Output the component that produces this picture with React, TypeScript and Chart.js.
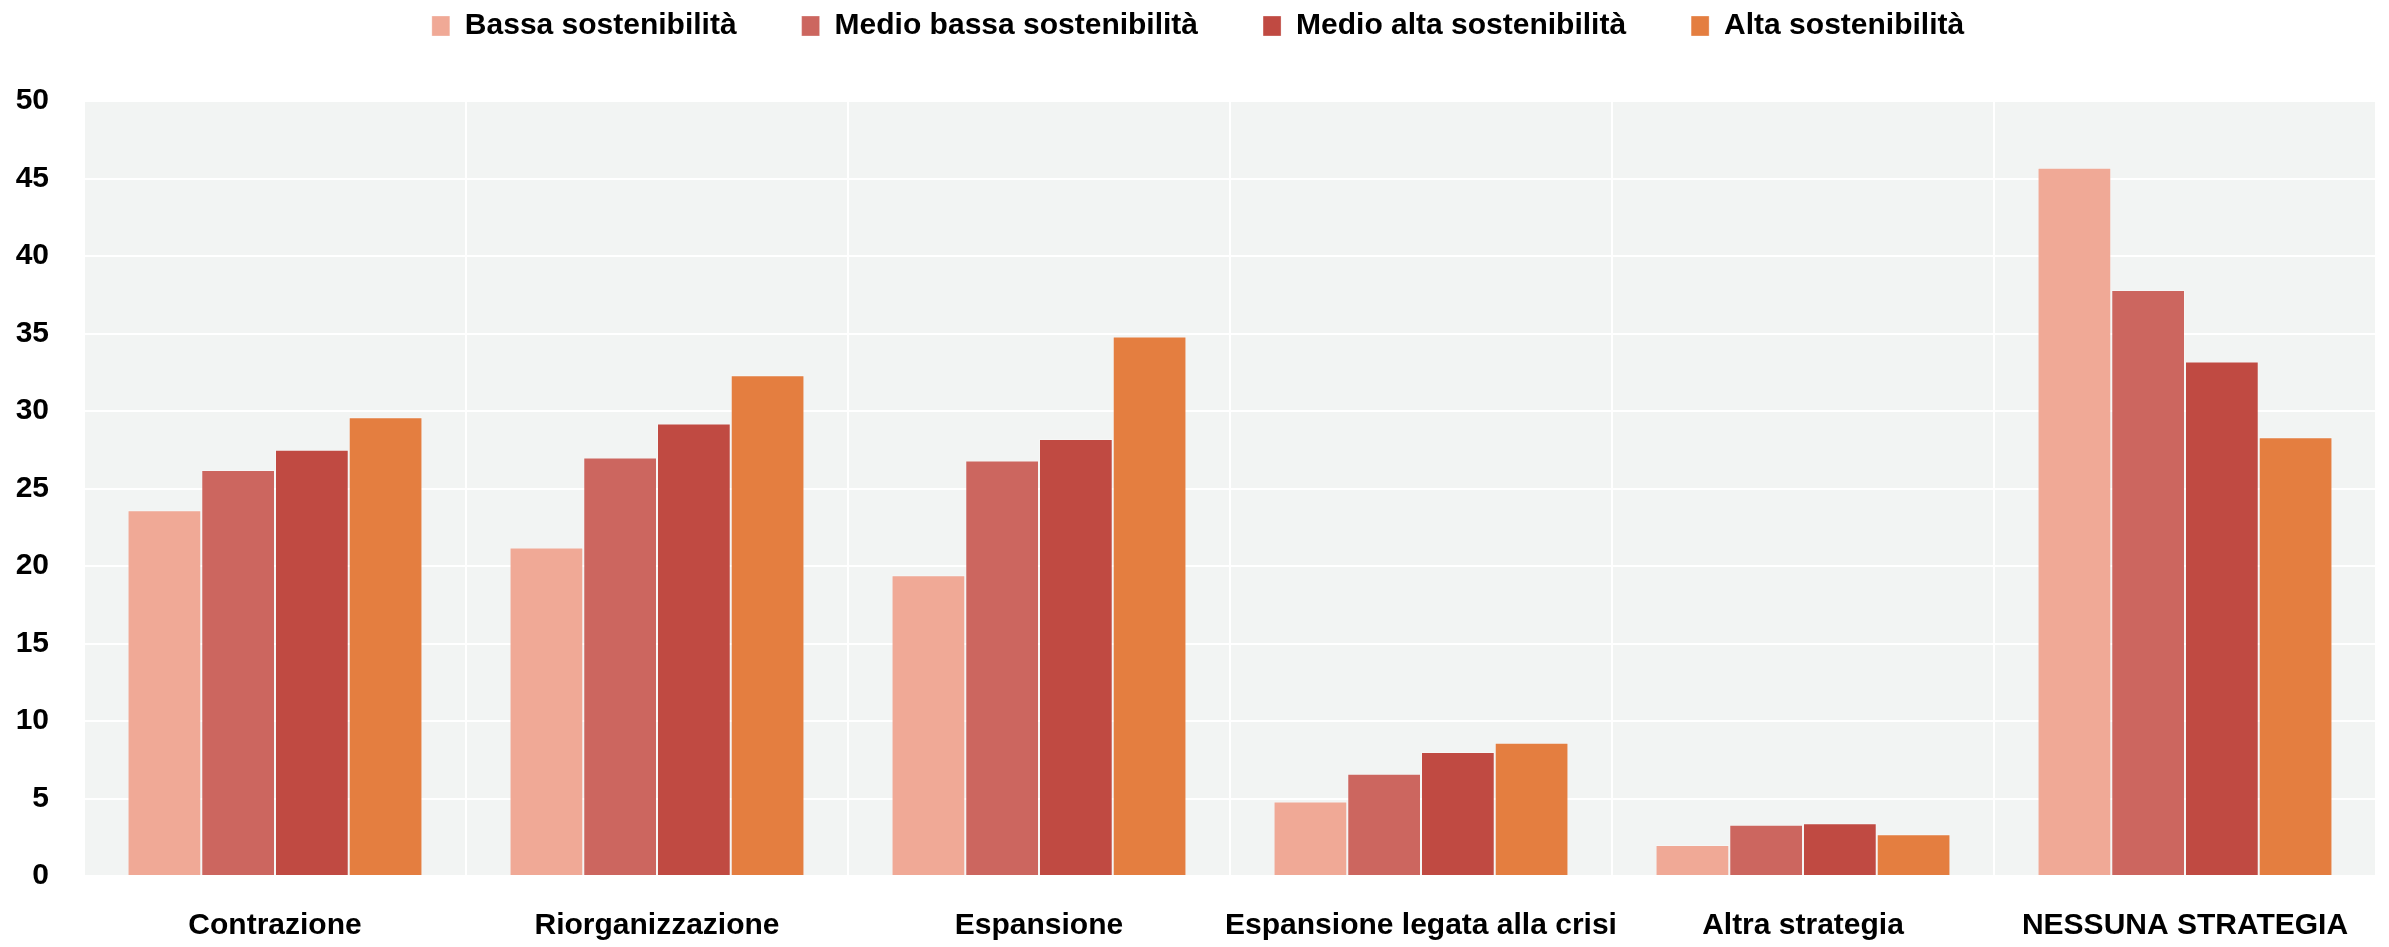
import React, { useEffect, useRef } from "react";
import { Chart, registerables } from "chart.js";

Chart.register(...registerables);

const categories = [
  "Contrazione",
  "Riorganizzazione",
  "Espansione",
  "Espansione legata alla crisi",
  "Altra strategia",
  "NESSUNA STRATEGIA",
];

const seriesNames = [
  "Bassa sostenibilità",
  "Medio bassa sostenibilità",
  "Medio alta sostenibilità",
  "Alta sostenibilità",
];

const bassa = [23.6, 21.2, 19.4, 4.8, 2.0, 45.7];
const medioBassa = [26.2, 27.0, 26.8, 6.6, 3.3, 37.8];
const medioAlta = [27.5, 29.2, 28.2, 8.0, 3.4, 33.2];
const alta = [29.6, 32.3, 34.8, 8.6, 2.7, 28.3];

const seriesColors = ["#F0A996", "#CC665F", "#C04A42", "#E47E40"];

const yMin = 0;
const yMax = 50;
const yStep = 5;

const FONT = "'Liberation Sans', Arial, sans-serif";

export default function App() {
  const canvasRef = useRef<HTMLCanvasElement | null>(null);

  useEffect(() => {
    if (!canvasRef.current) return;
    const values = [bassa, medioBassa, medioAlta, alta];

    const bgPlugin = {
      id: "plotBg",
      beforeDraw(chart: any) {
        const { ctx, chartArea } = chart;
        if (!chartArea) return;
        ctx.save();
        ctx.fillStyle = "#F2F4F3";
        ctx.fillRect(
          chartArea.left,
          chartArea.top,
          chartArea.right - chartArea.left,
          chartArea.bottom - chartArea.top
        );
        ctx.restore();
      },
    };

    const legendFitPlugin = {
      id: "legendFit",
      beforeInit(chart: any) {
        const legend = chart.legend;
        if (!legend) return;
        const origFit = legend.fit;
        legend.fit = function () {
          origFit.call(this);
          this.height = 155;
        };
        const origDraw = legend.draw;
        legend.draw = function (...args: any[]) {
          const ctx = this.ctx;
          ctx.save();
          ctx.translate(10, 0);
          origDraw.apply(this, args);
          ctx.restore();
        };
      },
    };

    const chart = new Chart(canvasRef.current, {
      type: "bar",
      data: {
        labels: categories,
        datasets: seriesNames.map((name, i) => ({
          label: name,
          data: values[i],
          backgroundColor: seriesColors[i],
          borderColor: "rgba(255,255,255,0.3)",
          borderWidth: 1,
          categoryPercentage: 0.772,
          barPercentage: 1.0,
        })),
      },
      options: {
        animation: false,
        responsive: true,
        maintainAspectRatio: false,
        layout: { padding: { top: -54, left: 0, right: 13, bottom: 0 } },
        plugins: {
          tooltip: { enabled: false },
          legend: {
            position: "top",
            align: "center",
            labels: {
              boxWidth: 18,
              boxHeight: 20,
              padding: 65,
              color: "#000",
              font: { family: FONT, size: 30, weight: "bold" },
            },
          },
        },
        scales: {
          x: {
            grid: {
              display: true,
              color: "#FFFFFF",
              lineWidth: 2,
              drawTicks: false,
              offset: true,
            },
            border: { display: false },
            ticks: {
              color: "#000",
              font: { family: FONT, size: 30, weight: "bold" },
              padding: 32,
              maxRotation: 0,
              autoSkip: false,
            },
            afterFit(scale: any) {
              scale.height = 71;
            },
          },
          y: {
            min: yMin,
            max: yMax,
            grid: {
              color: "#FFFFFF",
              lineWidth: 2,
              drawTicks: false,
            },
            border: { display: false },
            ticks: {
              stepSize: yStep,
              color: "#000",
              font: { family: FONT, size: 30, weight: "bold" },
              padding: 35,
            },
            afterFit(scale: any) {
              scale.width = 84;
            },
          },
        },
      },
      plugins: [bgPlugin, legendFitPlugin],
    } as any);

    return () => {
      chart.destroy();
    };
  }, []);

  return (
    <div
      style={{
        position: "fixed",
        left: 0,
        top: 0,
        width: "2389px",
        height: "947px",
        background: "#FFFFFF",
      }}
    >
      <canvas ref={canvasRef} />
    </div>
  );
}
